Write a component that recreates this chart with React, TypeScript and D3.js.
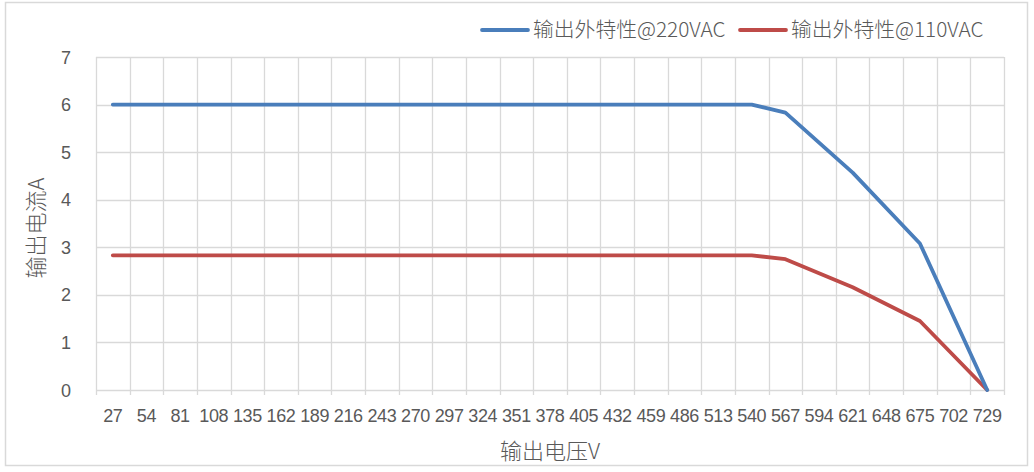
import React from "react";
import * as d3 from "d3";

const categories = [27, 54, 81, 108, 135, 162, 189, 216, 243, 270, 297, 324, 351, 378, 405, 432, 459, 486, 513, 540, 567, 594, 621, 648, 675, 702, 729];
const series220: (number | null)[] = [6, null, null, null, null, null, null, null, null, null, null, null, null, null, null, null, null, null, null, 6, 5.83, null, 4.57, null, 3.08, null, 0];
const series110: (number | null)[] = [2.83, null, null, null, null, null, null, null, null, null, null, null, null, null, null, null, null, null, null, 2.83, 2.75, null, 2.16, null, 1.45, null, 0];
const yTicks = [0, 1, 2, 3, 4, 5, 6, 7];
const seriesNames = ["输出外特性@220VAC", "输出外特性@110VAC"];
const colors = ["#4A7EBB", "#BE4B48"];

const W = 1034, H = 472;
const left = 96, right = 1004, top = 57, bottom = 390;
const font = "'Noto Sans CJK SC', 'Liberation Sans', sans-serif";
const numFont = "'Liberation Sans', sans-serif";
const grid = "#d9d9d9";
const txt = "#595959";

export default function App() {
  const x = d3.scaleBand<string>().domain(categories.map(String)).range([left, right]).padding(0);
  const y = d3.scaleLinear().domain([0, 7]).range([bottom, top]);
  const cx = (i: number) => (x(String(categories[i])) as number) + x.bandwidth() / 2;

  const mkPath = (vals: (number | null)[]) => {
    const pts = vals.map((v, i) => [i, v] as [number, number | null]).filter((p) => p[1] !== null) as [number, number][];
    return d3.line<[number, number]>().x((p) => cx(p[0])).y((p) => y(p[1]))(pts) || "";
  };

  const bounds = categories.map((c) => x(String(c)) as number).concat([right]);

  return (
    <svg width={W} height={H} style={{ position: "absolute", left: 0, top: 0, background: "#fff" }} fontFamily={font}>
      <rect x={5.5} y={2.5} width={1022} height={463} fill="#fff" stroke={grid} strokeWidth={1.5} />
      {yTicks.map((t) => (
        <line key={"h" + t} x1={left} x2={right} y1={Math.round(y(t)) + 0.5} y2={Math.round(y(t)) + 0.5} stroke={grid} strokeWidth={1.3} />
      ))}
      {bounds.map((b, i) => (
        <line key={"v" + i} x1={Math.round(b) + 0.5} x2={Math.round(b) + 0.5} y1={top} y2={bottom + 5} stroke={grid} strokeWidth={1.3} />
      ))}
      {yTicks.map((t) => (
        <text key={"yt" + t} x={71} y={y(t) + 6.5} textAnchor="end" fontSize={18} fill={txt} fontFamily={numFont}>{t}</text>
      ))}
      {categories.map((c, i) => (
        <text key={"xt" + c} x={cx(i)} y={422} textAnchor="middle" fontSize={18} fill={txt} fontFamily={numFont} letterSpacing={-0.4}>{c}</text>
      ))}
      <text x={550} y={459} textAnchor="middle" fontSize={22} fill={txt} fontWeight={300}>输出电压V</text>
      <text transform={`translate(44,228) rotate(-90)`} textAnchor="middle" fontSize={22} fill={txt} fontWeight={300}>输出电流A</text>
      <path d={mkPath(series110)} fill="none" stroke={colors[1]} strokeWidth={3.8} strokeLinejoin="round" strokeLinecap="round" />
      <path d={mkPath(series220)} fill="none" stroke={colors[0]} strokeWidth={3.8} strokeLinejoin="round" strokeLinecap="round" />
      {[482, 740].map((lx, i) => (
        <g key={"lg" + i}>
          <line x1={lx} x2={lx + 46} y1={30} y2={30} stroke={colors[i]} strokeWidth={3.8} strokeLinecap="round" />
          <text x={lx + 51} y={37} fontSize={20.8} fill={txt} fontWeight={300}>{seriesNames[i]}</text>
        </g>
      ))}
    </svg>
  );
}
